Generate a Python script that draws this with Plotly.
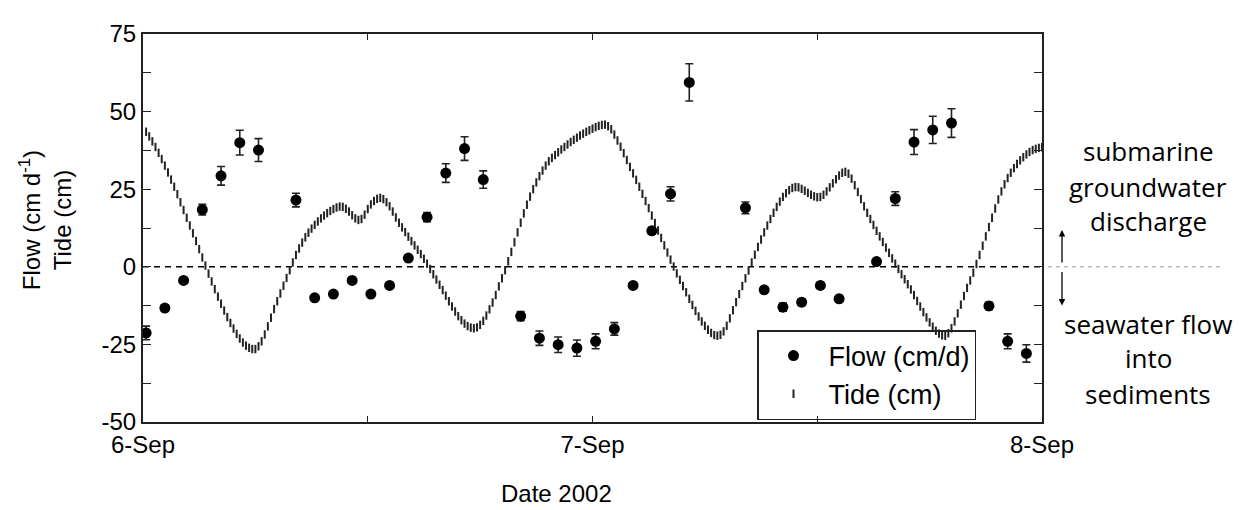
import datetime as dt
import plotly.graph_objects as go

# ---------------- data ----------------
# Flow measurements: hour offsets (from 6-Sep 00:10), values (cm/d), errors
flow_hours = [0, 1, 2, 3, 4, 5, 6, 8, 9, 10, 11, 12, 13, 14, 15, 16, 17, 18,
              20, 21, 22, 23, 24, 25, 26, 27, 28, 29, 32, 33, 34, 35, 36, 37,
              39, 40, 41, 42, 43, 45, 46, 47]
flow_values = [-21.3, -13.3, -4.4, 18.4, 29.3, 40.0, 37.6, 21.5, -10.0, -8.8,
               -4.4, -8.8, -6.0, 2.8, 16.0, 30.2, 38.1, 28.1, -15.9, -23.0,
               -25.1, -26.2, -24.0, -20.0, -6.0, 11.6, 23.5, 59.4, 19.0, -7.4,
               -13.0, -11.4, -6.0, -10.3, 1.7, 22.0, 40.2, 44.1, 46.3, -12.6,
               -24.0, -27.9]
flow_errors = [2.2, 1.0, 0.4, 1.7, 3.0, 4.0, 3.7, 2.2, 0.7, 0.7,
               0.4, 0.7, 0.5, 0.3, 1.5, 3.0, 3.8, 2.8, 1.5, 2.3,
               2.5, 2.6, 2.4, 2.0, 0.5, 1.1, 2.3, 6.0, 1.9, 0.7,
               1.3, 1.1, 0.6, 1.0, 0.2, 2.2, 4.0, 4.4, 4.6, 1.2,
               2.4, 2.8]

# Tide (cm), one reading every 10 minutes starting 6-Sep 00:10
tide_values = [
    43.5, 42.0, 40.4, 38.6, 36.7,
    34.7, 32.6, 30.4, 28.1, 25.8, 23.4,
    20.8, 18.3, 15.8, 13.3, 10.8, 8.3,
    5.7, 3.0, 0.4, -2.2, -4.7, -7.2,
    -9.6, -11.9, -14.1, -16.2, -18.1, -19.9,
    -21.6, -23.1, -24.4, -25.4, -26.1, -26.5,
    -26.5, -25.6, -24.0, -21.8, -19.2, -16.4,
    -13.6, -11.1, -8.6, -6.1, -3.6, -1.1,
    1.4, 3.8, 5.9, 7.8, 9.5, 11.0,
    12.3, 13.5, 14.6, 15.6, 16.5, 17.3,
    18.0, 18.6, 19.1, 19.4, 19.3, 18.7,
    17.8, 16.6, 15.6, 15.1, 15.4, 16.8,
    18.6, 20.1, 21.2, 21.9, 22.2, 21.8,
    20.8, 19.5, 17.8, 15.9, 14.2, 12.7,
    11.2, 9.7, 8.3, 6.9, 5.5, 4.1,
    2.6, 1.0, -0.7, -2.4, -4.1, -5.8,
    -7.5, -9.3, -11.1, -12.8, -14.4, -15.9,
    -17.2, -18.3, -19.1, -19.6, -19.8, -19.5,
    -18.7, -17.4, -15.7, -13.7, -11.5, -9.1,
    -6.3, -3.7, -1.1, 1.8, 4.8, 7.9,
    11.1, 14.2, 17.2, 20.0, 22.6, 25.0,
    27.2, 29.2, 31.0, 32.6, 34.0, 35.1,
    36.0, 36.9, 37.8, 38.6, 39.4, 40.2,
    40.9, 41.6, 42.3, 42.9, 43.5, 44.0,
    44.5, 45.0, 45.4, 45.7, 45.8, 45.3,
    44.3, 42.6, 40.7, 38.7, 36.6, 34.4,
    32.2, 30.1, 28.0, 25.8, 23.5, 21.2,
    18.9, 16.5, 14.1, 11.7, 9.3, 6.9,
    4.6, 2.3, 0.1, -2.1, -4.2, -6.2,
    -8.2, -10.3, -12.3, -14.2, -16.0, -17.6,
    -19.0, -20.3, -21.3, -22.0, -22.2, -21.9,
    -20.8, -19.0, -16.6, -14.0, -11.4, -8.8,
    -6.2, -3.7, -1.2, 1.4, 3.9, 6.4,
    8.8, 11.1, 13.3, 15.4, 17.4, 19.3,
    21.0, 22.5, 23.7, 24.7, 25.4, 25.7,
    25.6, 25.1, 24.5, 23.8, 23.2, 22.7,
    22.4, 22.5, 23.2, 24.3, 25.6, 26.9,
    28.2, 29.4, 30.3, 30.6, 30.0, 28.4,
    26.3, 24.1, 21.8, 19.5, 17.4, 15.4,
    13.5, 11.6, 9.8, 8.0, 6.2, 4.5,
    2.7, 1.0, -0.7, -2.4, -4.0, -5.6,
    -7.3, -9.1, -11.0, -12.8, -14.6, -16.3,
    -17.9, -19.3, -20.6, -21.5, -22.1, -22.2,
    -21.4, -19.8, -17.6, -15.0, -12.2, -9.4,
    -6.8, -4.4, -1.9, 0.9, 3.8, 6.8,
    9.8, 12.8, 15.8, 18.8, 21.7, 24.3,
    26.6, 28.6, 30.3, 31.8, 33.1, 34.3,
    35.3, 36.2, 37.0, 37.6, 38.0, 38.3,
    38.5,
]

x_tick_vals = ["2002-09-06", "2002-09-06 12:00", "2002-09-07",
               "2002-09-07 12:00", "2002-09-08"]
x_tick_text = ["6-Sep", "", "7-Sep", "", "8-Sep"]
y_tick_vals = [-50, -37.5, -25, -12.5, 0, 12.5, 25, 37.5, 50, 62.5, 75]
y_tick_text = ["-50", "", "-25", "", "0", "", "25", "", "50", "", "75"]

# ---------------- build ----------------
base = dt.datetime(2002, 9, 6, 0, 10)
flow_x = [base + dt.timedelta(hours=h) for h in flow_hours]
tide_x = [base + dt.timedelta(minutes=10 * i) for i in range(len(tide_values))]

fig = go.Figure()

fig.add_trace(go.Scatter(
    x=flow_x, y=flow_values, mode="markers", name="Flow (cm/d)",
    marker=dict(symbol="circle", size=11, color="black"),
    error_y=dict(type="data", array=flow_errors, visible=True,
                 color="#222", thickness=1.6, width=4),
))
fig.add_trace(go.Scatter(
    x=tide_x, y=tide_values, mode="markers", name="Tide (cm)",
    marker=dict(symbol="line-ns", size=6, color="#222",
                line=dict(width=2, color="#222")),
))

# page body has an 8px margin: figure origin sits at (8, 8) in the page
OFF = 8
W, H = 1247 - OFF, 510 - OFF
PL, PR, PT, PB = 143, 1042, 26, 422          # plot edges in page pixels
L, R, T, B = PL - OFF, 1247 - PR, PT - OFF, 510 - PB
pw, ph = PR - PL, PB - PT


def px_x(p):
    return (p - PL) / pw


def px_y(p):
    return (PB - p) / ph


axis_font = dict(family="Liberation Sans, Arial, sans-serif", size=24, color="black")

fig.update_layout(
    width=W, height=H,
    margin=dict(l=L, r=R, t=T, b=B, pad=0),
    paper_bgcolor="white", plot_bgcolor="white",
    font=axis_font,
    showlegend=True,
    legend=dict(
        x=px_x(757), y=px_y(420), xanchor="left", yanchor="bottom",
        bordercolor="#222", borderwidth=1.5, bgcolor="rgba(255,255,255,0)",
        font=dict(family="Liberation Sans, Arial, sans-serif", size=27, color="black"),
        tracegroupgap=0, itemwidth=60,
    ),
    xaxis=dict(
        type="date", range=["2002-09-06", "2002-09-08"],
        tickvals=x_tick_vals, ticktext=x_tick_text,
        ticks="inside", ticklen=6, tickwidth=1.2, tickcolor="#222",
        showline=True, linecolor="#222", linewidth=2, mirror="ticks",
        showgrid=False, zeroline=False, tickfont=axis_font,
    ),
    yaxis=dict(
        range=[-50, 75], tickvals=y_tick_vals, ticktext=y_tick_text,
        ticks="inside", ticklen=8, tickwidth=1.2, tickcolor="#222",
        showline=True, linecolor="#222", linewidth=2, mirror="ticks",
        showgrid=False, zeroline=False, tickfont=axis_font,
    ),
)

# zero line inside plot
fig.add_shape(type="line", xref="paper", yref="y", x0=0, x1=1, y0=0, y1=0,
              line=dict(color="black", width=1.5, dash="6px,5px"), layer="below")
# grey dashed continuation outside plot
fig.add_shape(type="line", xref="paper", yref="y", x0=px_x(1048), x1=px_x(1223),
              y0=0, y1=0, line=dict(color="#999", width=1, dash="4px,4px"))

# arrows
fig.add_annotation(xref="paper", yref="paper", x=px_x(1062), y=px_y(226),
                   ax=0, ay=34, showarrow=True, arrowhead=2, arrowsize=1,
                   arrowwidth=1.3, arrowcolor="black", text="")
fig.add_annotation(xref="paper", yref="paper", x=px_x(1062), y=px_y(303),
                   ax=0, ay=-35, showarrow=True, arrowhead=2, arrowsize=1,
                   arrowwidth=1.3, arrowcolor="black", text="")

side_font = dict(family="Open Sans, sans-serif", size=26, color="black")
for txt, ypx in [("submarine", 145), ("groundwater", 182), ("discharge", 217),
                 ("seawater flow", 322), ("into", 357), ("sediments", 393)]:
    fig.add_annotation(xref="paper", yref="paper", x=px_x(1148), y=px_y(ypx),
                       text=txt, showarrow=False, font=side_font,
                       xanchor="center", yanchor="middle")

# axis titles
fig.add_annotation(xref="paper", yref="paper", x=px_x(556), y=px_y(495),
                   text="Date 2002", showarrow=False, font=axis_font,
                   xanchor="center", yanchor="middle")
fig.add_annotation(xref="paper", yref="paper", x=px_x(45), y=px_y(216),
                   text="Flow (cm d<sup>-1</sup>)<br>Tide (cm)", showarrow=False,
                   font=axis_font, textangle=-90,
                   xanchor="center", yanchor="middle")

fig.write_html("out.html")
